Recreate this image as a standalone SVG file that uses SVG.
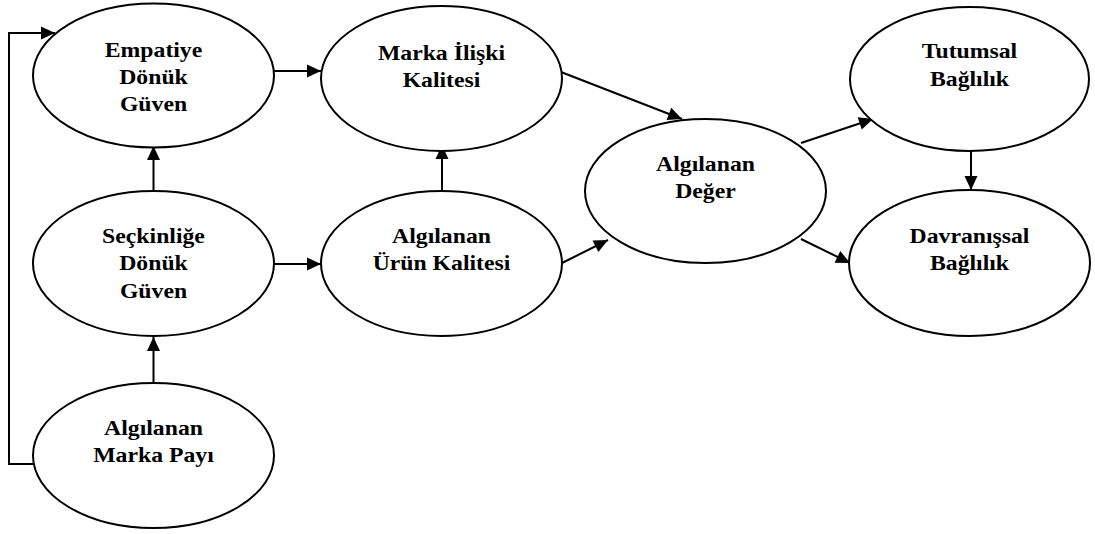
<svg xmlns="http://www.w3.org/2000/svg" width="1095" height="534" viewBox="0 0 1095 534">
  <style>
    .node ellipse { fill: #fff; stroke: #000; stroke-width: 2; }
    .node text { font-family: "Liberation Serif", "Times New Roman", serif; font-weight: bold; font-size: 21px; text-anchor: middle; fill: #000; }
    .edge { fill: none; stroke: #000; stroke-width: 2; marker-end: url(#arrow); }
  </style>
  <defs>
    <marker id="arrow" markerUnits="userSpaceOnUse" markerWidth="15" markerHeight="14" refX="14" refY="6.5" orient="auto" overflow="visible">
      <path d="M0,0 L14,6.5 L0,13 Z" fill="#000"/>
    </marker>
  </defs>
  <rect width="1095" height="534" fill="#fff"/>

  <!-- connectors -->
  <g id="connectors">
    <polyline class="edge" points="33,464 9,464 9,33 55,33"/>
    <line class="edge" x1="274" y1="71" x2="321" y2="71"/>
    <line class="edge" x1="561" y1="72" x2="682" y2="119"/>
    <line class="edge" x1="153.5" y1="191" x2="153.5" y2="146"/>
    <line class="edge" x1="153.5" y1="383" x2="153.5" y2="337"/>
    <line class="edge" x1="274" y1="264" x2="321" y2="264"/>
    <line class="edge" x1="442" y1="191" x2="442" y2="145"/>
    <line class="edge" x1="562" y1="263" x2="608" y2="240"/>
    <line class="edge" x1="801" y1="143" x2="873" y2="119"/>
    <line class="edge" x1="801" y1="239" x2="850" y2="263"/>
    <line class="edge" x1="971" y1="143" x2="971" y2="190"/>
  </g>

  <!-- nodes -->
  <g id="empatiye" class="node">
    <ellipse cx="153.5" cy="75.5" rx="120.5" ry="72"/>
    <g transform="translate(153.5 0) scale(1.13 1)">
      <text x="0" y="57">Empatiye</text>
      <text x="0" y="84">Dönük</text>
      <text x="0" y="111.5">Güven</text>
    </g>
  </g>
  <g id="marka-iliski" class="node">
    <ellipse cx="441.5" cy="78.5" rx="120.5" ry="72.5"/>
    <g transform="translate(441.5 0) scale(1.13 1)">
      <text x="0" y="60">Marka İlişki</text>
      <text x="0" y="87">Kalitesi</text>
    </g>
  </g>
  <g id="seckinlige" class="node">
    <ellipse cx="153.5" cy="263.5" rx="120.5" ry="72.5"/>
    <g transform="translate(153.5 0) scale(1.13 1)">
      <text x="0" y="243">Seçkinliğe</text>
      <text x="0" y="270.5">Dönük</text>
      <text x="0" y="298">Güven</text>
    </g>
  </g>
  <g id="urun-kalitesi" class="node">
    <ellipse cx="441.5" cy="263.5" rx="120.5" ry="72.5"/>
    <g transform="translate(441.5 0) scale(1.13 1)">
      <text x="0" y="243">Algılanan</text>
      <text x="0" y="270.5">Ürün Kalitesi</text>
    </g>
  </g>
  <g id="deger" class="node">
    <ellipse cx="705.5" cy="191" rx="120.5" ry="72"/>
    <g transform="translate(705.5 0) scale(1.13 1)">
      <text x="0" y="171">Algılanan</text>
      <text x="0" y="198.5">Değer</text>
    </g>
  </g>
  <g id="tutumsal" class="node">
    <ellipse cx="969.5" cy="79" rx="119.5" ry="72"/>
    <g transform="translate(969.5 0) scale(1.13 1)">
      <text x="0" y="58.5">Tutumsal</text>
      <text x="0" y="86">Bağlılık</text>
    </g>
  </g>
  <g id="davranissal" class="node">
    <ellipse cx="969.5" cy="263" rx="120.5" ry="73"/>
    <g transform="translate(969.5 0) scale(1.13 1)">
      <text x="0" y="243">Davranışsal</text>
      <text x="0" y="270.5">Bağlılık</text>
    </g>
  </g>
  <g id="marka-payi" class="node">
    <ellipse cx="153.5" cy="455.5" rx="120.5" ry="72.5"/>
    <g transform="translate(153.5 0) scale(1.13 1)">
      <text x="0" y="435">Algılanan</text>
      <text x="0" y="462.5">Marka Payı</text>
    </g>
  </g>
</svg>
